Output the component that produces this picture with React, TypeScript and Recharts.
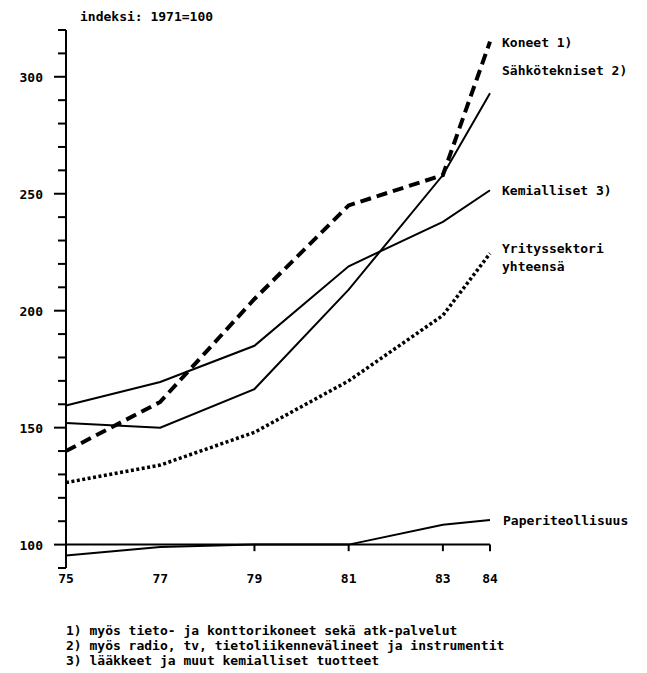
import React from 'react';
import { LineChart, Line, XAxis, YAxis, ReferenceLine, LabelList } from 'recharts';

const years = [75, 77, 79, 81, 83, 84];
const koneet = [140, 161, 205, 245, 258, 315];
const sahko = [152, 150, 166.5, 209, 258, 293];
const kemialliset = [159.5, 169.5, 185, 219, 238, 251.5];
const yrityssektori = [126.5, 134, 148, 170, 198, 224.5];
const paperi = [95.3, 99, 100, 100, 108.5, 110.5];

const yTicks = [90, 100, 110, 120, 130, 140, 150, 160, 170, 180, 190, 200, 210, 220, 230, 240, 250, 260, 270, 280, 290, 300, 310, 320];
const yLabelled = [100, 150, 200, 250, 300];
const xTickMarks = [79, 81, 83, 84];

const footnotes = [
  '1) myös tieto- ja konttorikoneet sekä atk-palvelut',
  '2) myös radio, tv, tietoliikennevälineet ja instrumentit',
  '3) lääkkeet ja muut kemialliset tuotteet',
];

const FONT = '"DejaVu Sans Mono", "Liberation Mono", monospace';

const data = years.map((year, i) => ({
  year,
  koneet: koneet[i],
  sahko: sahko[i],
  kemialliset: kemialliset[i],
  yrityssektori: yrityssektori[i],
  paperi: paperi[i],
}));

const endLabel = (lines: string[], dx: number, dy: number) => (props: any) => {
  const { x, y, index } = props;
  if (index !== years.length - 1) return null;
  return (
    <text x={x + dx} y={y + dy} fontFamily={FONT} fontSize={13} fontWeight="bold" fill="#000">
      {lines.map((l, k) => (
        <tspan key={k} x={x + dx} dy={k === 0 ? 0 : 18}>
          {l}
        </tspan>
      ))}
    </text>
  );
};

const YTick = (props: any) => {
  const { x, y, payload } = props;
  const major = yLabelled.includes(payload.value);
  const len = major ? 12 : 8;
  return (
    <g>
      <line x1={x - len} y1={y} x2={x} y2={y} stroke="#000" strokeWidth={2} />
      {major && (
        <text x={x - len - 11} y={y + 5} textAnchor="end" fontFamily={FONT} fontSize={13} fontWeight="bold" fill="#000">
          {payload.value}
        </text>
      )}
    </g>
  );
};

export default function App() {
  return (
    <div style={{ position: 'absolute', left: 0, top: 0, width: 647, height: 673, background: '#fff' }}>
      <div
        style={{
          position: 'absolute',
          left: 80,
          top: 9,
          fontFamily: FONT,
          fontSize: 13,
          fontWeight: 'bold',
          color: '#000',
          whiteSpace: 'nowrap',
        }}
      >
        indeksi: 1971=100
      </div>
      <LineChart width={647} height={600} data={data} margin={{ top: 30, right: 157, bottom: 2, left: 0 }}>
        <XAxis
          dataKey="year"
          type="number"
          domain={[75, 84]}
          ticks={years}
          axisLine={false}
          tickLine={false}
          tickSize={4}
          height={30}
          tick={{ fontFamily: FONT, fontSize: 13, fontWeight: 'bold', fill: '#000' }}
        />
        <YAxis
          type="number"
          domain={[90, 320]}
          ticks={yTicks}
          width={66}
          axisLine={{ stroke: '#000', strokeWidth: 2 }}
          tickLine={false}
          tickSize={0}
          tickMargin={0}
          tick={<YTick />}
          interval={0}
          allowDataOverflow
        />
        <ReferenceLine y={100} stroke="#000" strokeWidth={2} />
        {xTickMarks.map((t) => (
          <ReferenceLine
            key={t}
            segment={[
              { x: t, y: 100 },
              { x: t, y: 97.2 },
            ]}
            stroke="#000"
            strokeWidth={2}
          />
        ))}
        <Line
          dataKey="paperi"
          stroke="#000"
          strokeWidth={2}
          dot={false}
          isAnimationActive={false}
        >
          <LabelList dataKey="paperi" content={endLabel(['Paperiteollisuus'], 13, 5)} />
        </Line>
        <Line
          dataKey="yrityssektori"
          stroke="#000"
          strokeWidth={3.5}
          strokeDasharray="3 2.5"
          dot={false}
          isAnimationActive={false}
        >
          <LabelList dataKey="yrityssektori" content={endLabel(['Yrityssektori', 'yhteensä'], 12, 0)} />
        </Line>
        <Line
          dataKey="kemialliset"
          stroke="#000"
          strokeWidth={2}
          dot={false}
          isAnimationActive={false}
        >
          <LabelList dataKey="kemialliset" content={endLabel(['Kemialliset 3)'], 12, 5)} />
        </Line>
        <Line
          dataKey="sahko"
          stroke="#000"
          strokeWidth={2}
          dot={false}
          isAnimationActive={false}
        >
          <LabelList dataKey="sahko" content={endLabel(['Sähkötekniset 2)'], 12, -18)} />
        </Line>
        <Line
          dataKey="koneet"
          stroke="#000"
          strokeWidth={4}
          strokeDasharray="11 6"
          dot={false}
          isAnimationActive={false}
        >
          <LabelList dataKey="koneet" content={endLabel(['Koneet 1)'], 12, 5)} />
        </Line>
      </LineChart>
      <div
        style={{
          position: 'absolute',
          left: 66,
          top: 623,
          fontFamily: FONT,
          fontSize: 13,
          fontWeight: 'bold',
          lineHeight: '15px',
          color: '#000',
          whiteSpace: 'nowrap',
        }}
      >
        {footnotes.map((f, i) => (
          <div key={i}>{f}</div>
        ))}
      </div>
    </div>
  );
}
